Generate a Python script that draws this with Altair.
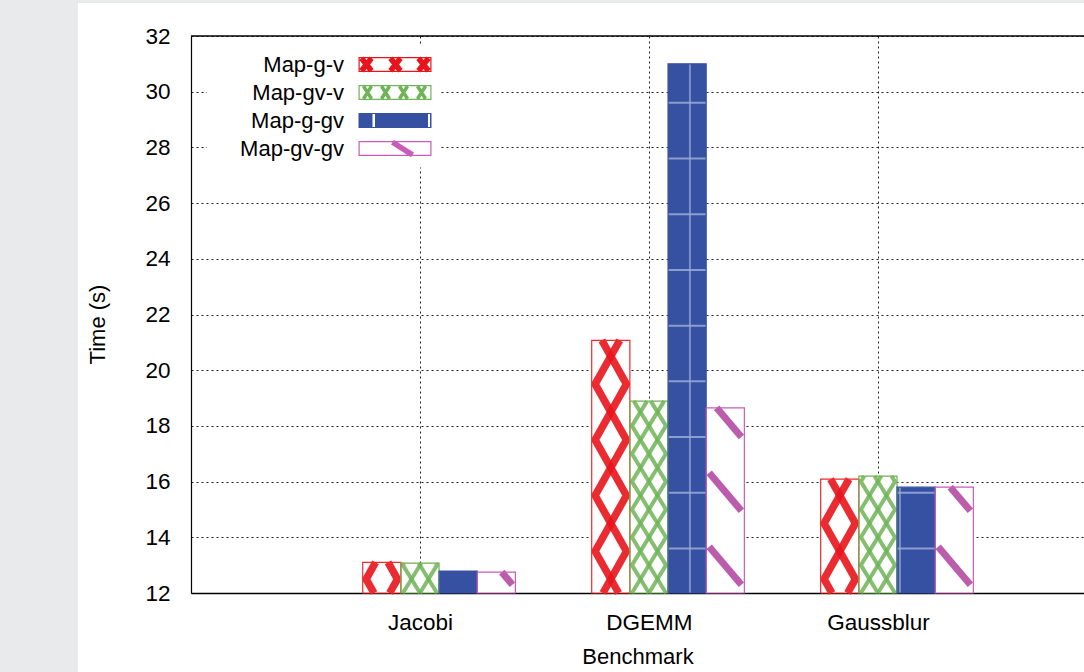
import math
import altair as alt
import pandas as pd

# ---- data -------------------------------------------------------------
benchmarks = ["Jacobi", "DGEMM", "Gaussblur"]
series = ["Map-g-v", "Map-gv-v", "Map-g-gv", "Map-gv-gv"]

map_g_v = [13.10, 21.07, 16.09]
map_gv_v = [13.07, 18.89, 16.20]
map_g_gv = [12.79, 31.00, 15.80]
map_gv_gv = [12.75, 18.65, 15.80]

y_ticks = [12, 14, 16, 18, 20, 22, 24, 26, 28, 30, 32]
bench_ticks = [0, 1, 2]

# ---- styling ----------------------------------------------------------
RED = "#e8141c"
GREEN = "#6fb457"
BLUE = "#3651a1"
PINK = "#c85cb8"
STRIPE = "#b0409f"
LIGHT_BLUE = "#9aabd8"
PAGE_GRAY = "#e9eaec"
FONT = "Liberation Sans"

bar_fill = ["white", "white", BLUE, "white"]
bar_edge = ["#ee2a2a", "#6db04f", BLUE, PINK]

rows = []
for si, (name, vals) in enumerate(zip(series, [map_g_v, map_gv_v, map_g_gv, map_gv_gv])):
    for bi, (bench, v) in enumerate(zip(benchmarks, vals)):
        rows.append({"bench": bench, "bidx": bi, "series": name, "sidx": si, "time": v,
                     "fillc": bar_fill[si], "edgec": bar_edge[si]})
df = pd.DataFrame(rows)

xscale = alt.Scale(domain=[-1, 2.9], nice=False, zero=False)
yscale = alt.Scale(domain=[12, 32], nice=False, zero=False)

x_axis = alt.Axis(
    values=bench_ticks, labelExpr=f"{benchmarks}[datum.value]", title="Benchmark",
    grid=True, gridColor="#222222", gridDash=[2, 3], gridWidth=1,
    ticks=False, tickSize=0, domainColor="black", domainWidth=1.5,
    labelFontSize=22.5, labelColor="black", labelPadding=18, labelFont=FONT,
    titleFontSize=22, titleFontWeight="normal", titleColor="black", titleFont=FONT,
    titleBaseline="top", titleY=53,
)
y_axis = alt.Axis(
    values=y_ticks, title="Time (s)",
    grid=True, gridColor="#222222", gridDash=[2, 3], gridWidth=1,
    ticks=False, tickSize=0, domainColor="black", domainWidth=1.2,
    labelFontSize=22.5, labelColor="black", labelPadding=21, labelFont=FONT,
    titleFontSize=22, titleFontWeight="normal", titleColor="black", titleFont=FONT,
    titleBaseline="alphabetic", titleX=-87, titleY=288, titleAlign="center",
)


def X(f):
    return alt.X(f, scale=xscale, axis=x_axis)


def Y(f):
    return alt.Y(f, scale=yscale, axis=y_axis)


# clustered bars: four bars per benchmark, the second one centred on the tick
base = alt.Chart(df).transform_calculate(
    xa="datum.bidx + (datum.sidx - 1.5) / 6",
).transform_calculate(
    xb="datum.bidx + (datum.sidx - 0.5) / 6",
)

bars = base.mark_rect(strokeWidth=0).encode(
    x=X("xa:Q"), x2="xb:Q", y=Y("time:Q"), y2=alt.datum(12),
    fill=alt.Fill("fillc:N", scale=None),
)

# crossed zig-zag fill for the two "-v" series (phase alternates per group)
zig = (
    base.transform_filter("datum.sidx <= 1")
    .transform_calculate(q0="datum.sidx == 0 ? 11.5 + (datum.bidx % 2 == 0 ? 1 : 0) : 12")
    .transform_calculate(qs="datum.sidx == 0 ? [datum.q0, datum.q0 + 2] : [datum.q0, datum.q0 + 1, datum.q0 + 2, datum.q0 + 3]")
    .transform_flatten(["qs"], as_=["q"])
    .transform_calculate(js="sequence(0, 16)")
    .transform_flatten(["js"], as_=["j"])
    .transform_calculate(m0="floor((12 - datum.q) / 2)")
    .transform_calculate(yy="clamp(datum.q + 2 * (datum.m0 + datum.j), 12, datum.time)")
    .transform_calculate(t="(((datum.yy - datum.q) % 4) + 4) % 4")
    .transform_calculate(ins="datum.sidx == 0 ? 0.015 : 0.009")
    .transform_calculate(xn="datum.t <= 2 ? datum.t / 2 : (4 - datum.t) / 2")
    .transform_calculate(xx="datum.xa + datum.ins + datum.xn * (datum.xb - datum.xa - 2 * datum.ins)")
)
zig_enc = dict(x=X("xx:Q"), y=Y("yy:Q"), detail=["bench:N", "q:Q"], order="j:Q")
red_zig = zig.transform_filter("datum.sidx == 0").mark_line(
    color=RED, strokeWidth=7.5, strokeJoin="round", strokeCap="butt", opacity=0.9
).encode(**zig_enc)
green_zig = zig.transform_filter("datum.sidx == 1").mark_line(
    color=GREEN, strokeWidth=4, strokeJoin="round", strokeCap="butt", opacity=0.85
).encode(**zig_enc)

# diagonal stripes for Map-gv-gv
stripes = (
    base.transform_filter("datum.sidx == 3")
    .transform_calculate(ns="sequence(0, 10)")
    .transform_flatten(["ns"], as_=["n"])
    .transform_calculate(r="12.3 + 2.65 * datum.n")
    .transform_calculate(tlo="max(0, 1 - (datum.time - datum.r) / 1.364)")
    .transform_calculate(thi="min(1, 1 + (datum.r - 12) / 1.364)")
    .transform_filter("datum.tlo < datum.thi")
    .transform_calculate(w="datum.xb - datum.xa - 0.026")
    .transform_calculate(sx1="datum.xa + 0.013 + datum.tlo * datum.w")
    .transform_calculate(sx2="datum.xa + 0.013 + datum.thi * datum.w")
    .transform_calculate(sy1="datum.r + 1.364 * (1 - datum.tlo)")
    .transform_calculate(sy2="datum.r + 1.364 * (1 - datum.thi)")
    .mark_rule(color=STRIPE, strokeWidth=7, opacity=0.85, strokeCap="butt")
    .encode(x=X("sx1:Q"), x2="sx2:Q", y=Y("sy1:Q"), y2="sy2:Q")
)

# light hatch lines on the solid Map-g-gv bars
blue_h = (
    base.transform_filter("datum.sidx == 2")
    .transform_calculate(hs="sequence(0, 12)")
    .transform_flatten(["hs"], as_=["h"])
    .transform_calculate(hy="13.6 + 2 * datum.h")
    .transform_filter("datum.hy < datum.time - 0.05")
    .mark_rule(color=LIGHT_BLUE, strokeWidth=2, opacity=0.85)
    .encode(x=X("xa:Q"), x2="xb:Q", y=Y("hy:Q"))
)
blue_v = (
    base.transform_filter("datum.sidx == 2")
    .transform_calculate(xl="1.179 + 0.917 * ceil((datum.xa - 1.179) / 0.917)")
    .transform_filter("datum.xl < datum.xb")
    .mark_rule(color=LIGHT_BLUE, strokeWidth=2, opacity=0.7)
    .encode(x=X("xl:Q"), y=Y("time:Q"), y2=alt.datum(12))
)

outlines = base.mark_rect(fillOpacity=0, strokeWidth=1.2).encode(
    x=X("xa:Q"), x2="xb:Q", y=Y("time:Q"), y2=alt.datum(12),
    stroke=alt.Stroke("edgec:N", scale=None),
)

# ---- legend swatches drawn as custom symbol paths ---------------------
SW, SH, FR = 73.0, 15.0, 1.2
SHIFT = 132.5  # swatch sits to the right of the label column
R = 7.5        # symbol path unit (sqrt(symbolSize) / 2)


def _fmt(x, y):
    return f"{(SHIFT + x) / R:.3f},{(y - SH / 2) / R:.3f}"


def ring(pts, positive=True):
    a = sum(x1 * y2 - x2 * y1 for (x1, y1), (x2, y2) in zip(pts, pts[1:] + pts[:1]))
    if (a > 0) != positive:
        pts = pts[::-1]
    return "M" + "L".join(_fmt(x, y) for x, y in pts) + "Z"


def rect(x0, y0, x1, y1, positive=True):
    return ring([(x0, y0), (x1, y0), (x1, y1), (x0, y1)], positive)


def band(x1, y1, x2, y2, w):
    dx, dy = x2 - x1, y2 - y1
    L = math.hypot(dx, dy)
    nx, ny = -dy / L * w / 2, dx / L * w / 2
    return ring([(x1 + nx, y1 + ny), (x2 + nx, y2 + ny), (x2 - nx, y2 - ny), (x1 - nx, y1 - ny)])


def frame():
    return rect(0, 0, SW, SH) + rect(FR, FR, SW - FR, SH - FR, positive=False)


def crosses(centres, arm, w):
    out = ""
    for c in centres:
        out += band(c - arm, FR, c + arm, SH - FR, w) + band(c + arm, FR, c - arm, SH - FR, w)
    return out


swatch_paths = [
    frame() + crosses([8, 37, 65], 5, 5.5),
    frame() + crosses([9, 27, 45, 63], 4, 3.5),
    rect(0, 0, SW, SH) + rect(14, 1, 16.5, SH - 1, False) + rect(69.5, 1, 71.5, SH - 1, False),
    frame() + band(34, FR, 54, SH - FR, 5.5),
]

legend = alt.Legend(
    orient="none", legendX=16, legendY=9.5, title=None,
    labelAlign="right", labelOffset=107, labelFontSize=22, labelFont=FONT, labelColor="black",
    symbolSize=225, symbolStrokeWidth=0, symbolOpacity=1,
    fillColor="white", padding=8, rowPadding=6,
)
legend_layer = base.mark_point(filled=True, opacity=0, size=4).encode(
    x=X("xa:Q"), y=Y("time:Q"),
    color=alt.Color("series:N", scale=alt.Scale(domain=series, range=[RED, GREEN, BLUE, PINK]), legend=legend),
    shape=alt.Shape("series:N", scale=alt.Scale(domain=series, range=swatch_paths), legend=legend),
)

# top border of the frame
one = alt.Data(values=[{}])
top_border = alt.Chart(one).mark_rule(color="black", strokeWidth=1.5).encode(
    y=alt.YDatum(32, scale=yscale, axis=y_axis)
)

# grey page margin around the figure
margin_left = alt.Chart(one).mark_rect(color=PAGE_GRAY).encode(
    x=alt.value(-191), x2=alt.value(-113), y=alt.value(-36), y2=alt.value(636)
)
margin_top = alt.Chart(one).mark_rect(color=PAGE_GRAY).encode(
    x=alt.value(-113), x2=alt.value(893), y=alt.value(-36), y2=alt.value(-33)
)

chart = alt.layer(
    bars, red_zig, green_zig, stripes, blue_h, blue_v, outlines,
    top_border, legend_layer, margin_left, margin_top,
).properties(
    width=893, height=557,
    autosize=alt.AutoSizeParams(type="none"),
    padding={"left": 191, "top": 36, "right": 0, "bottom": 79},
).configure(
    background="white", font=FONT,
).configure_view(
    stroke=None,
)

chart.save("out.html", embed_options={"renderer": "svg", "actions": False})
